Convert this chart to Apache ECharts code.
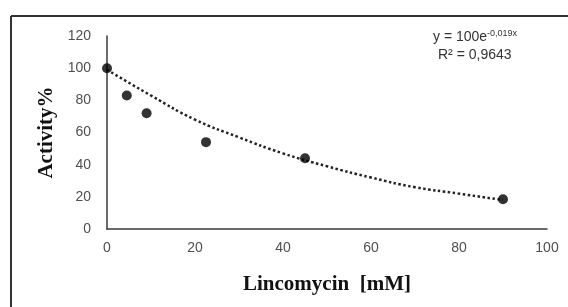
<!DOCTYPE html>
<html>
<head>
    <meta charset="utf-8">
    <title>ECharts</title>
    <script src="https://cdn.jsdelivr.net/npm/echarts@6/dist/echarts.min.js"></script>
    <style>
        html, body { margin: 0; padding: 0; background: #fff; overflow: hidden; }
    </style>
</head>
<body>
<div id="main" style="width: 568px;height:307px;"></div>
</body>

<script type="text/javascript">

    // measured points
    var conc = [0, 4.5, 9, 22.5, 45, 90];
    var activity = [100, 83, 72, 54, 44, 18.5];

    // exponential trendline
    var trendX = [0, 10, 20, 30, 40, 50, 60, 70, 80, 90];
    var trendY = [99, 83, 68, 57, 47, 39, 32, 26, 22, 18];

    var xTicks = [0, 20, 40, 60, 80, 100];
    var yTicks = [0, 20, 40, 60, 80, 100, 120];

    var eqText = '{b|y = 100e}{s|-0,019x}';
    var r2Text = 'R² = 0,9643';

    var myChart = echarts.init(document.getElementById('main'));

    var pts = conc.map(function (x, i) { return [x, activity[i]]; });
    var trend = trendX.map(function (x, i) { return [x, trendY[i]]; });

    var tickStyle = { color: '#4f4f4f', fontSize: 14, fontFamily: 'Liberation Sans' };
    var frame = { stroke: '#333', lineWidth: 2 };

    myChart.setOption({
        animation: false,
        backgroundColor: '#fff',
        grid: { left: 107, right: 21, top: 36, bottom: 78 },
        xAxis: {
            type: 'value',
            min: xTicks[0],
            max: xTicks[xTicks.length - 1],
            interval: 20,
            name: 'Lincomycin  [mM]',
            nameLocation: 'middle',
            nameGap: 45,
            nameTextStyle: { fontFamily: 'Liberation Serif', fontWeight: 'bold', fontSize: 21, color: '#111' },
            axisLine: { lineStyle: { color: '#3a3a3a', width: 1.5 } },
            axisTick: { show: false },
            splitLine: { show: false },
            axisLabel: Object.assign({ margin: 12 }, tickStyle)
        },
        yAxis: {
            type: 'value',
            min: yTicks[0],
            max: yTicks[yTicks.length - 1],
            interval: 20,
            name: 'Activity%',
            nameLocation: 'middle',
            nameGap: 44,
            nameTextStyle: { fontFamily: 'Liberation Serif', fontWeight: 'bold', fontSize: 21, color: '#111' },
            axisLine: { show: true, lineStyle: { color: '#3a3a3a', width: 1.5 } },
            axisTick: { show: false },
            splitLine: { show: false },
            axisLabel: Object.assign({ margin: 16 }, tickStyle)
        },
        series: [
            {
                type: 'line',
                data: trend,
                smooth: true,
                showSymbol: false,
                lineStyle: { type: 'dotted', width: 2.5, color: '#222' },
                z: 1
            },
            {
                type: 'scatter',
                data: pts,
                symbolSize: 10,
                itemStyle: { color: '#000' },
                z: 2
            }
        ],
        graphic: [
            // outer frame: only the top and left edges fall inside the picture
            { type: 'line', shape: { x1: 11, y1: 16, x2: 568, y2: 16 }, style: frame, silent: true },
            { type: 'line', shape: { x1: 11, y1: 16, x2: 11, y2: 307 }, style: frame, silent: true },
            {
                type: 'text',
                left: 433,
                top: 29,
                style: {
                    text: eqText,
                    rich: {
                        b: { fontSize: 14, fontFamily: 'Liberation Sans', fill: '#333' },
                        s: { fontSize: 9, fontFamily: 'Liberation Sans', fill: '#333', verticalAlign: 'top', padding: [0, 0, 7, 0] }
                    }
                }
            },
            {
                type: 'text',
                left: 438,
                top: 48,
                style: { text: r2Text, fontSize: 14, fontFamily: 'Liberation Sans', fill: '#333' }
            }
        ]
    });

</script>
</html>
